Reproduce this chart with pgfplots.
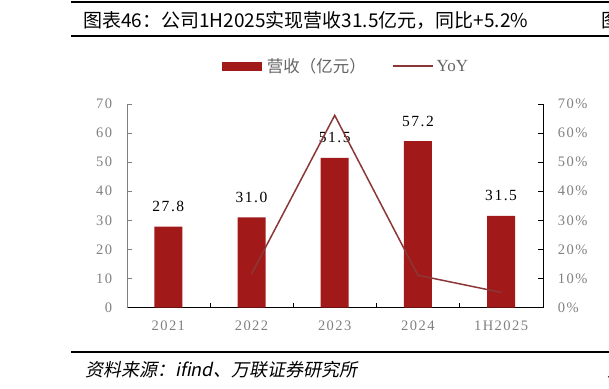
\documentclass[border=0pt]{standalone}
\usepackage{fontspec}
\usepackage{pgfplots}
\pgfplotsset{compat=1.18}
\setmainfont{Liberation Serif}
\newfontfamily\cjk{Noto Sans CJK SC}
\newfontfamily\cjkit[FakeSlant=0.2]{Noto Sans CJK SC}
\newfontfamily\numfont[LetterSpace=10]{Liberation Serif}
\definecolor{barred}{RGB}{162,25,25}
\definecolor{linered}{RGB}{140,55,55}
\definecolor{tickgray}{RGB}{128,128,128}
\definecolor{leggray}{RGB}{100,100,100}
\begin{document}
\begin{tikzpicture}
\useasboundingbox (0pt,0pt) rectangle (609pt,388pt);
% rules
\fill[black] (70.7pt,384.8pt) rectangle (609pt,387.3pt);
\fill[black] (70.7pt,351pt) rectangle (609pt,353.2pt);
\fill[black] (70.7pt,35pt) rectangle (609pt,37.5pt);
% title
\node[anchor=west,inner sep=0pt,font=\cjk\fontsize{19}{19}\selectfont] at (83pt,367.3pt) {图表46：公司1H2025实现营收31.5亿元，同比+5.2\%};
\node[anchor=west,inner sep=0pt,font=\cjk\fontsize{19}{19}\selectfont] at (601.7pt,367.3pt) {图表47};
% legend
\fill[barred] (221.7pt,317.3pt) rectangle (261.7pt,326.3pt);
\node[anchor=west,inner sep=0pt,text=leggray,font=\cjk\fontsize{16.5}{16.5}\selectfont] at (266.7pt,321.8pt) {营收（亿元）};
\draw[linered,line width=1.5pt] (392.7pt,321.8pt) -- (433pt,321.8pt);
\node[anchor=west,inner sep=0pt,text=leggray,font=\fontsize{17}{17}\selectfont] at (436.5pt,321.8pt) {YoY};
% source
\node[anchor=west,inner sep=0pt,font=\cjkit\fontsize{18}{18}\selectfont] at (85pt,18pt) {资料来源：ifind、万联证券研究所};
\node[anchor=west,inner sep=0pt,font=\cjkit\fontsize{18}{18}\selectfont] at (607pt,18pt) {资料};
% bars
\begin{axis}[
  at={(126.7pt,80.5pt)}, anchor=south west,
  scale only axis, width=416pt, height=203.5pt,
  xmin=-0.5, xmax=4.5, ymin=0, ymax=70,
  ybar, bar width=28pt,
  axis y line*=left, axis x line*=bottom,
  y axis line style={draw=gray},
  x axis line style={draw=black},
  xtick={0,1,2,3,4},
  xticklabels={2021,2022,2023,2024,1H2025},
  minor xtick={0.5,1.5,2.5,3.5},
  major x tick style={draw=none},
  minor x tick style={draw=black},
  minor tick length=5pt,
  ytick={0,10,...,70},
  y tick style={draw=gray},
  major tick length=5pt,
  tick align=inside,
  /pgf/number format/assume math mode=true,
  tick label style={font=\numfont\fontsize{14.5}{14.5}\selectfont, text=tickgray},
  yticklabel style={anchor=east, inner sep=0pt, xshift=-14.5pt},
  xticklabel style={anchor=north, inner sep=0pt, yshift=-13pt},
  nodes near coords={\pgfmathprintnumber[fixed,fixed zerofill,precision=1]{\pgfplotspointmeta}},
  every node near coord/.append style={anchor=base, inner sep=0pt, yshift=15pt, text=black, font=\numfont\fontsize{15.5}{15.5}\selectfont},
  clip=false,
]
\addplot[fill=barred, draw=none] coordinates {(0,27.8) (1,31.0) (2,51.5) (3,57.2) (4,31.5)};
\end{axis}
% YoY
\begin{axis}[
  at={(126.7pt,80.5pt)}, anchor=south west,
  scale only axis, width=416pt, height=203.5pt,
  xmin=-0.5, xmax=4.5, ymin=0, ymax=70,
  axis y line*=right, axis x line=none,
  y axis line style={draw=black},
  ytick={0,10,...,70},
  y tick style={draw=black},
  major tick length=5pt,
  tick align=inside,
  /pgf/number format/assume math mode=true,
  yticklabel={\pgfmathprintnumber{\tick}\%},
  tick label style={font=\numfont\fontsize{14.5}{14.5}\selectfont, text=tickgray},
  yticklabel style={anchor=west, inner sep=0pt, xshift=15pt},
]
\addplot[linered, line width=1.5pt, mark=none] coordinates {(1,11.5) (2,66.1) (3,11.1) (4,5.2)};
\end{axis}
\end{tikzpicture}
\end{document}
